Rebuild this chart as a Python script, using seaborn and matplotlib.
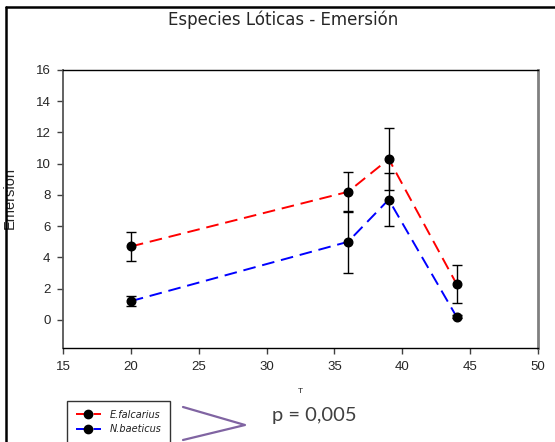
import matplotlib
matplotlib.use("Agg")
import matplotlib.pyplot as plt
import seaborn as sns
import pandas as pd
from matplotlib.lines import Line2D

temps = [20, 36, 39, 44]
species = ["E.falcarius", "N.baeticus"]
falcarius_mean = [4.7, 8.2, 10.3, 2.3]
falcarius_err = [0.9, 1.3, 2.0, 1.2]
baeticus_mean = [1.2, 5.0, 7.7, 0.2]
baeticus_err = [0.3, 2.0, 1.7, 0.1]
x_ticks = [15, 20, 25, 30, 35, 40, 45, 50]
y_ticks = [0, 2, 4, 6, 8, 10, 12, 14, 16]
colors = {"E.falcarius": "#ff0000", "N.baeticus": "#0000ff"}

df = pd.DataFrame({
    "T": temps * 2,
    "Emersion": falcarius_mean + baeticus_mean,
    "err": falcarius_err + baeticus_err,
    "species": [species[0]] * 4 + [species[1]] * 4,
})

sns.set_style("white")
W, H = 555, 442
fig = plt.figure(figsize=(W / 100, H / 100), dpi=100)
ax = fig.add_axes([63 / W, 1 - 348 / H, (538 - 63) / W, (348 - 70) / H])

sns.lineplot(data=df, x="T", y="Emersion", hue="species", palette=colors,
             ax=ax, legend=False, lw=1.4, zorder=2)
for line in ax.get_lines():
    line.set_dashes((6.5, 3.5))
for sp in species:
    sub = df[df["species"] == sp]
    ax.errorbar(sub["T"], sub["Emersion"], yerr=sub["err"], fmt="o",
                color="black", ms=6.2, elinewidth=1.0, capsize=3.5,
                capthick=1.0, zorder=3)

ax.set_xlim(15, 50)
ax.set_ylim(-1.8, 16)
ax.set_xticks(x_ticks)
ax.set_yticks(y_ticks)
tick_font = {"family": "Liberation Sans", "size": 9.5}
ax.set_xticklabels([str(t) for t in x_ticks], fontdict=tick_font)
ax.set_yticklabels([str(t) for t in y_ticks], fontdict=tick_font)
ax.tick_params(axis="both", direction="out", length=4, width=1,
               color="#404040", pad=5, bottom=True, left=True)
ax.set_xlabel("T", fontsize=6, family="Liberation Sans", labelpad=11)
ax.set_ylabel("Emersion", fontsize=10.5, family="Liberation Sans")
ax.yaxis.set_label_coords(-0.097, 0.54)
ax.grid(False)
for side in ["top", "bottom"]:
    ax.spines[side].set_color("#000000")
    ax.spines[side].set_linewidth(1.0)
ax.spines["left"].set_color("#555555")
ax.spines["left"].set_linewidth(1.3)
ax.spines["right"].set_color("#808080")
ax.spines["right"].set_linewidth(2.0)

fig.text(283 / W, 1 - 20 / H, "Especies Lóticas - Emersión", ha="center",
         va="center", fontsize=12, family="DejaVu Sans")

# figure frame
fig.add_artist(Line2D([6 / W, 6 / W], [0, 1 - 7 / H], color="black", lw=1.8,
                      transform=fig.transFigure))
fig.add_artist(Line2D([6 / W, 1], [1 - 7 / H, 1 - 7 / H], color="black", lw=1.8,
                      transform=fig.transFigure))

# legend
handles = [Line2D([], [], color=colors[s], lw=1.4, dashes=(6, 3), marker="o",
                  mfc="black", mec="black", ms=6) for s in species]
leg = fig.legend(handles, species, loc="upper left",
                 bbox_to_anchor=(62 / W, 1 - 396 / H), frameon=True,
                 prop={"style": "italic", "size": 7, "family": "DejaVu Sans"},
                 handlelength=2.6, borderpad=0.9, labelspacing=0.5,
                 handletextpad=0.9, fancybox=False, edgecolor="black")
leg.get_frame().set_linewidth(1.0)
for t in leg.get_texts():
    t.set_color("#202020")

# chevron
fig.add_artist(Line2D([183 / W, 245 / W, 183 / W],
                      [1 - 407 / H, 1 - 425 / H, 1 - 440 / H],
                      color="#8064A2", lw=1.6, transform=fig.transFigure))
fig.text(272 / W, 1 - 415 / H, "p = 0,005", ha="left", va="center",
         fontsize=14.5, family="Lato", color="#404040")

fig.savefig("out.png", dpi=100)
